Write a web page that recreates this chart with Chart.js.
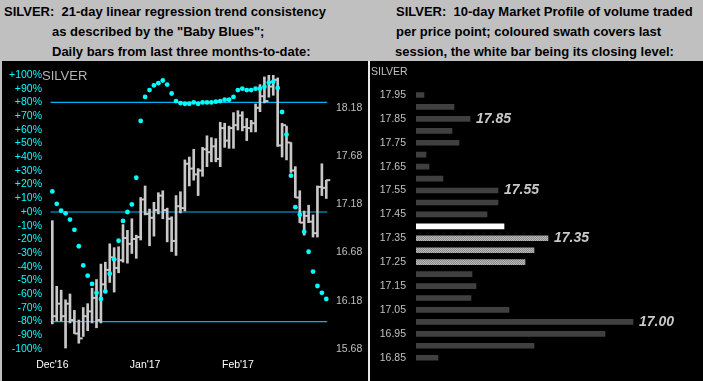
<!DOCTYPE html>
<html><head><meta charset="utf-8">
<script src="https://cdn.jsdelivr.net/npm/chart.js@4/dist/chart.umd.min.js"></script>
<style>
html,body{margin:0;padding:0;}
body{width:703px;height:381px;background:#c0c0c0;position:relative;overflow:hidden;font-family:"Liberation Sans",Arial,sans-serif;}
.t{position:absolute;font-weight:bold;font-size:13px;line-height:20px;color:#000;white-space:nowrap;}
.panel{position:absolute;top:61px;height:320px;background:#000;}
canvas{position:absolute;}
.lbl{position:absolute;white-space:nowrap;}
</style></head>
<body>
<div class="t" style="left:4px;top:2px;">SILVER:&nbsp; 21-day linear regression trend consistency<br><span style="padding-left:48px">as described by the "Baby Blues";</span><br><span style="padding-left:48px">Daily bars from last three months-to-date:</span></div>
<div class="t" style="left:396px;top:2px;">SILVER:&nbsp; 10-day Market Profile of volume traded<br>per price point; coloured swath covers last<br><span style="margin-left:-1px">session, the white bar being its closing level:</span></div>
<div class="panel" style="left:2px;width:366px;"></div>
<div class="panel" style="left:368px;width:2px;background:#e8e8e8;"></div>
<div class="panel" style="left:370px;width:333px;"></div>
<canvas id="c1" width="367" height="320" style="left:0;top:61px;"></canvas>
<canvas id="c2" width="333" height="320" style="left:370px;top:61px;"></canvas>
<div class="lbl" style="left:42px;top:68px;font-size:13px;line-height:16px;color:#b4b4b4;">SILVER</div>
<div class="lbl" style="left:371px;top:65px;font-size:10.5px;line-height:12px;color:#c0c0c0;">SILVER</div>
<script>
const FONT = "'Liberation Sans', Arial, sans-serif";
// ---- left panel data ----
const monthLabels = ["Dec'16", "Jan'17", "Feb'17"];
const monthIdx = [0, 21, 42];
const highs = [17.01,16.33,16.29,16.19,16.25,16.08,15.98,16.11,16.15,16.31,
  16.40,16.56,16.58,16.77,16.73,16.74,16.97,16.91,17.03,16.86,
  17.25,17.37,17.13,17.20,17.30,17.32,17.14,17.05,17.27,17.31,
  17.64,17.67,17.75,17.55,17.77,17.89,17.87,17.86,18.03,18.02,
  17.99,18.13,18.15,18.14,18.07,18.05,18.22,18.42,18.50,18.52,
  18.52,18.49,18.02,17.99,17.82,17.57,17.32,17.11,17.17,17.07,
  17.37,17.60,17.43];
const lows = [15.94,15.97,15.97,15.69,15.95,15.84,15.74,15.81,15.87,15.95,
  15.90,15.95,16.27,16.37,16.27,16.47,16.58,16.57,16.67,16.62,
  16.81,17.07,16.75,16.85,17.08,17.03,16.79,16.69,16.65,17.09,
  17.11,17.37,17.43,17.27,17.47,17.57,17.62,17.62,17.57,17.77,
  17.76,17.76,17.95,17.94,17.84,17.93,17.93,18.14,18.23,18.29,
  18.31,17.78,17.67,17.64,17.51,17.25,16.99,16.86,16.99,16.84,
  16.84,17.27,17.24];
const closes = [16.02,16.15,16.02,16.15,15.98,15.84,15.79,16.02,16.07,16.21,
  15.98,16.35,16.50,16.63,16.52,16.60,16.83,16.77,16.82,16.84,
  17.23,17.08,17.04,17.12,17.27,17.12,17.03,16.80,17.16,17.14,
  17.60,17.55,17.49,17.53,17.75,17.72,17.78,17.65,17.97,17.84,
  17.97,18.00,18.10,17.98,17.97,18.02,18.18,18.30,18.25,18.40,
  18.47,17.79,18.00,17.82,17.53,17.25,16.99,17.06,17.00,16.88,
  17.36,17.35,17.43];
const babyBlues = [15,6,1,-1,-5.5,-13,-25,-39,-46.5,-52.5,
  -59,-63.5,-58,-45,-34.5,-21,-6.5,0,5.5,25,
  66.5,84,89,92.5,94,96,93,86.5,81,79.5,
  79,79,80,79,80,80,80,80.5,81,82,
  82,84,89,90,89,89,90,90,91.5,94.5,
  95,90.5,73,56.5,26.5,3.5,-2,-14.5,-29,-43.5,
  -54,-59,-63.5];
const bbLevels = [80, 0, -80];
const pctTicks = [-100,-90,-80,-70,-60,-50,-40,-30,-20,-10,0,10,20,30,40,50,60,70,80,90,100];
const priceTicks = [15.68,16.18,16.68,17.18,17.68,18.18];
// ---- right panel data ----
const profilePrices = ['17.95','17.90','17.85','17.80','17.75','17.70','17.65','17.60','17.55','17.50','17.45','17.40',
  '17.35','17.30','17.25','17.20','17.15','17.10','17.05','17.00','16.95','16.90','16.85'];
const profileVolume = [8,38,54,36,43,10,13,27,82,82,71,88,132,118,109,56,60,55,93,217,189,118,22];
const swathPrices = ['17.35','17.30','17.25'];
const closeLevel = '17.40';
const peakLabels = ['17.85','17.55','17.35','17.00'];

const BAR_GREY = '#c8c8c8';
const LINE_BLUE = '#00b4f4';
const n = highs.length;

const noGrid = {display:false, drawTicks:false, tickLength:0};
const noBorder = {display:false};

new Chart(document.getElementById('c1'), {
  type: 'scatter',
  data: { datasets: [
    ...bbLevels.map(v => ({ type:'line', data:[{x:-0.4,y:v},{x:n-0.8,y:v}], yAxisID:'y',
        borderColor:LINE_BLUE, borderWidth:1.2, pointRadius:0, showLine:true, fill:false, order:3 })),
    { type:'bar', data: highs.map((h,i)=>({x:i, y:[lows[i], h]})), yAxisID:'y2',
      backgroundColor:BAR_GREY, barThickness:2, borderWidth:0, order:2 },
    { type:'scatter', data: closes.map((c,i)=>({x:i+0.45, y:c})), yAxisID:'y2',
      pointStyle:'line', pointRadius:2, borderColor:BAR_GREY, borderWidth:2, order:1 },
    { type:'scatter', data: babyBlues.map((v,i)=>({x:i, y:v})), yAxisID:'y',
      pointStyle:'circle', pointRadius:2.4, backgroundColor:'#00ffff', borderWidth:0, order:0 }
  ]},
  options: {
    responsive:false, animation:false,
    layout:{padding:{top:14,left:0,right:0,bottom:0}},
    plugins:{legend:{display:false}, tooltip:{enabled:false}},
    scales:{
      x:{ type:'linear', min:-1.88, max:63.52, offset:false, grid:noGrid, border:noBorder,
          afterBuildTicks: s => { s.ticks = monthIdx.map(v => ({value:v})); },
          ticks:{ color:'#ffffff', padding:10, autoSkip:false, maxRotation:0, font:{family:FONT,size:10.5},
                  callback: v => { const k = monthIdx.indexOf(v); return k >= 0 ? monthLabels[k] : ''; } },
          afterFit: s => { s.height = 32; } },
      y:{ type:'linear', position:'left', min:-100, max:100, grid:noGrid, border:noBorder,
          afterBuildTicks: s => { s.ticks = pctTicks.map(v => ({value:v})); },
          ticks:{ color:'#00ffff', padding:2, autoSkip:false, font:{family:FONT,size:10.5},
                  callback: v => (v >= 0 ? '+' : '') + v + '%' },
          afterFit: s => { s.width = 44; } },
      y2:{ type:'linear', position:'right', min:15.68, max:18.52, grid:noGrid, border:noBorder,
          afterBuildTicks: s => { s.ticks = priceTicks.map(v => ({value:v})); },
          ticks:{ color:'#c0c0c0', padding:3, autoSkip:false, font:{family:FONT,size:10.5},
                  callback: v => Number(v).toFixed(2) },
          afterFit: s => { s.width = 34; } }
    }
  }
});

// hatched pattern for last-session swath
const pc = document.createElement('canvas'); pc.width = 2; pc.height = 2;
const pctx = pc.getContext('2d');
pctx.fillStyle = '#8c8c8c'; pctx.fillRect(0,0,2,2);
pctx.fillStyle = '#b8b8b8'; pctx.fillRect(0,0,1,1); pctx.fillRect(1,1,1,1);
const swathPattern = pctx.createPattern(pc, 'repeat');

const peakPlugin = {
  id:'peaks',
  afterDatasetsDraw(chart){
    const ctx = chart.ctx; const meta = chart.getDatasetMeta(0);
    ctx.save();
    ctx.font = "italic bold 14px " + FONT;
    ctx.fillStyle = '#c8c8c8'; ctx.textBaseline = 'middle'; ctx.textAlign = 'left';
    peakLabels.forEach(p => { const i = profilePrices.indexOf(p); const el = meta.data[i];
      ctx.fillText(p, el.x + 6, el.y); });
    ctx.restore();
  }
};

new Chart(document.getElementById('c2'), {
  type:'bar',
  data:{ labels: profilePrices, datasets:[{
    data: profileVolume,
    backgroundColor: profilePrices.map(p => p === closeLevel ? '#ffffff' : (swathPrices.includes(p) ? swathPattern : '#404040')),
    barThickness:5, borderWidth:0 }]},
  options:{
    indexAxis:'y', responsive:false, animation:false,
    layout:{padding:{top:28,bottom:17.3,left:0,right:0}},
    plugins:{legend:{display:false}, tooltip:{enabled:false}},
    scales:{
      x:{ display:false, min:0, max:287 },
      y:{ grid:noGrid, border:noBorder,
          ticks:{ color:'#c0c0c0', padding:10, autoSkip:false, font:{family:FONT,size:10.5},
                  callback: (v,i) => i % 2 === 0 ? profilePrices[i] : '' },
          afterFit: s => { s.width = 46; } }
    }
  },
  plugins:[peakPlugin]
});
</script>
</body></html>
